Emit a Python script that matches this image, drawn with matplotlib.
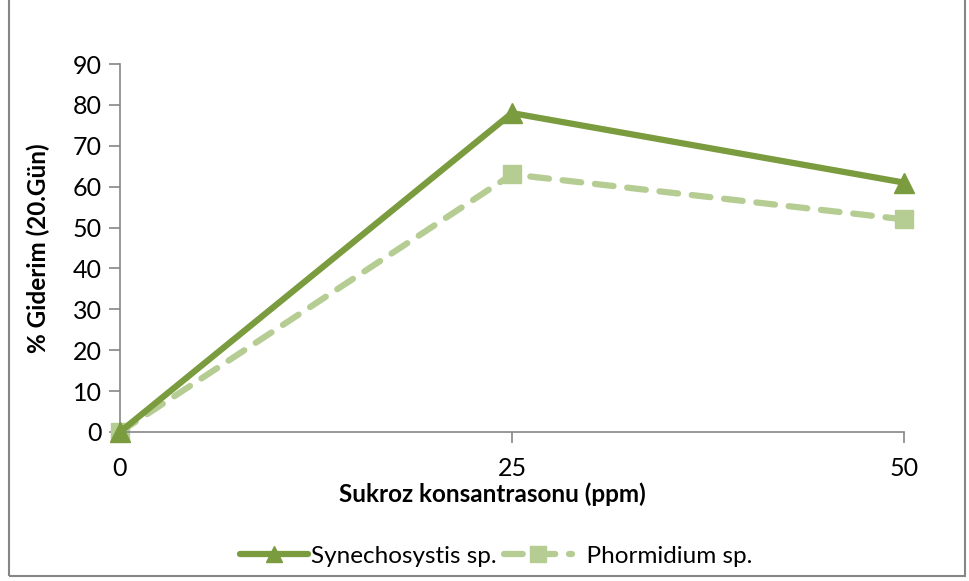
import matplotlib.pyplot as plt
from matplotlib.patches import Rectangle

plt.rcParams['font.family'] = ['Lato', 'DejaVu Sans']

# Veriler
konsantrasyon = ['0', '25', '50']
synechosystis = [0, 78, 61]
phormidium = [0, 63, 52]

x = list(range(len(konsantrasyon)))

fig = plt.figure(figsize=(9.69, 5.81), dpi=100)
ax = fig.add_axes([0.1238, 0.2565, 0.8091, 0.6333])

# Dış çerçeve
fig.patches.append(Rectangle((0.009, 0.008), 0.987, 0.995, transform=fig.transFigure,
                             fill=False, edgecolor='#868686', linewidth=1.5))

ax.plot(x, synechosystis, color='#7A9B3E', linewidth=4.5, marker='^',
        markersize=14, label='Synechosystis sp.', solid_capstyle='round', zorder=3)
ax.plot(x, phormidium, color='#B5CD93', linewidth=4.5, marker='s',
        markersize=13, linestyle=(0, (3, 2.2)), dash_capstyle='round',
        label='  Phormidium sp.', zorder=2)

ax.set_xlim(0, 2)
ax.set_ylim(0, 90)
ax.set_yticks(range(0, 91, 10))
ax.set_xticks(x)
ax.set_xticklabels(konsantrasyon)

for s in ['top', 'right']:
    ax.spines[s].set_visible(False)
for s in ['left', 'bottom']:
    ax.spines[s].set_color('#868686')
    ax.spines[s].set_linewidth(1.2)
    ax.spines[s].set_clip_on(False)

ax.tick_params(axis='both', direction='out', length=8, width=1.2, color='#868686',
               labelsize=18, labelcolor='black')
ax.tick_params(axis='y', pad=5)
ax.tick_params(axis='x', pad=10)

for line in ax.lines:
    line.set_clip_on(False)

ax.set_xlabel('Sukroz konsantrasonu (ppm)', fontsize=17.5, fontweight='bold', labelpad=2)
ax.xaxis.label.set_x(0.475)
ax.set_ylabel('% Giderim (20.Gün)', fontsize=17.5, fontweight='bold', labelpad=16)

ax.legend(loc='upper center', bbox_to_anchor=(0.48, -0.25), ncol=2, frameon=False,
          fontsize=17.5, handlelength=2.8, columnspacing=0.3, handletextpad=0.1,
          markerscale=0.85)

fig.savefig('out.png', dpi=100)
